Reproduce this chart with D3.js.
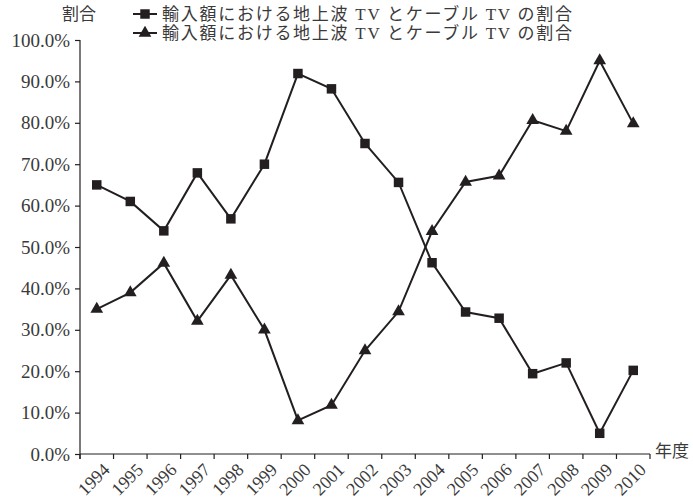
<!DOCTYPE html>
<html>
<head>
<meta charset="utf-8">
<script src="https://cdn.jsdelivr.net/npm/d3@7/dist/d3.min.js"></script>
<style>
  html, body { margin: 0; padding: 0; background: #fff; }
  svg { display: block; }
</style>
</head>
<body>
<svg id="chart" width="693" height="498"></svg>
<script>
// Fiscal years on the horizontal axis
const years = ["1994","1995","1996","1997","1998","1999","2000","2001","2002",
               "2003","2004","2005","2006","2007","2008","2009","2010"];
// Share (%) — series drawn with square markers
const squareSeries = [65.0, 61.0, 53.9, 67.9, 56.8, 70.0, 91.9, 88.2, 75.0,
                      65.6, 46.2, 34.3, 32.8, 19.4, 22.0, 5.0, 20.2];
// Share (%) — series drawn with triangle markers
const triangleSeries = [35.0, 39.0, 46.1, 32.1, 43.2, 30.0, 8.1, 11.8, 25.0,
                        34.4, 53.8, 65.7, 67.2, 80.6, 78.0, 95.0, 79.8];
const yTicks = [0, 10, 20, 30, 40, 50, 60, 70, 80, 90, 100];
const legendLabels = ["輸入額における地上波 TV とケーブル TV の割合",
                      "輸入額における地上波 TV とケーブル TV の割合"];
const yTitle = "割合";
const xTitle = "年度";

const ink = "#231f20";
const textInk = "#3a3a3a";
const serif = "'Liberation Serif', 'Noto Sans CJK JP', serif";
const cjk = "'Liberation Serif', 'Noto Sans CJK JP', sans-serif";

const svg = d3.select("#chart");
const plotLeft = 80, plotRight = 650, plotTop = 40, plotBottom = 454;

const x = d3.scaleBand().domain(years).range([plotLeft, plotRight]).padding(0);
const y = d3.scaleLinear().domain([0, 100]).range([plotBottom, plotTop]);
const cx = d => x(d) + x.bandwidth() / 2;

// Y axis
const yAxis = svg.append("g")
  .attr("transform", `translate(${plotLeft},0)`)
  .call(d3.axisLeft(y).tickValues(yTicks).tickSize(5).tickPadding(6)
        .tickFormat(d => d3.format(".1f")(d) + "%"));
yAxis.select(".domain").attr("d", `M0,${plotTop}V${plotBottom + 5}`)
  .attr("stroke", ink).attr("stroke-width", 1.2);
yAxis.selectAll(".tick line").attr("stroke", ink).attr("stroke-width", 1.2);
yAxis.selectAll(".tick text")
  .attr("font-family", serif).attr("font-size", 19).attr("fill", textInk)
  .attr("x", -10);

// X axis: ticks on band boundaries, labels under band centres
const xg = svg.append("g").attr("transform", `translate(0,${plotBottom})`);
xg.append("line").attr("x1", plotLeft).attr("x2", plotRight).attr("y1", 0).attr("y2", 0)
  .attr("stroke", ink).attr("stroke-width", 1.2);
const bounds = years.map(d => x(d)).concat([plotRight]);
xg.selectAll("line.tk").data(bounds).enter().append("line").attr("class", "tk")
  .attr("x1", d => d).attr("x2", d => d).attr("y1", 0).attr("y2", 5)
  .attr("stroke", ink).attr("stroke-width", 1.2);
xg.selectAll("text.yr").data(years).enter().append("text").attr("class", "yr")
  .attr("transform", d => `translate(${cx(d) + 14},${17}) rotate(-45)`)
  .attr("text-anchor", "end")
  .attr("font-family", serif).attr("font-size", 18).attr("fill", textInk)
  .text(d => d);

svg.append("text").attr("x", 655).attr("y", 457).attr("fill", textInk)
  .attr("font-family", cjk).attr("font-size", 17).text(xTitle);
svg.append("text").attr("x", 62).attr("y", 20).attr("fill", textInk)
  .attr("font-family", cjk).attr("font-size", 17).text(yTitle);

// Lines
const line = d3.line().x((d, i) => cx(years[i])).y(d => y(d));
[squareSeries, triangleSeries].forEach(s => {
  svg.append("path").attr("d", line(s)).attr("fill", "none")
    .attr("stroke", ink).attr("stroke-width", 2).attr("stroke-linejoin", "miter");
});

// Markers
const sq = d3.symbol().type(d3.symbolSquare).size(90);
const tri = d3.symbol().type(d3.symbolTriangle).size(70);
svg.selectAll("path.sq").data(squareSeries).enter().append("path").attr("class", "sq")
  .attr("d", sq).attr("fill", ink)
  .attr("transform", (d, i) => `translate(${cx(years[i])},${y(d)})`);
svg.selectAll("path.tri").data(triangleSeries).enter().append("path").attr("class", "tri")
  .attr("d", tri).attr("fill", ink)
  .attr("transform", (d, i) => `translate(${cx(years[i])},${y(d)})`);

// Legend
const legend = svg.append("g");
const rows = [{sym: sq, y: 14}, {sym: tri, y: 33}];
rows.forEach((r, i) => {
  legend.append("line").attr("x1", 133).attr("x2", 157).attr("y1", r.y).attr("y2", r.y)
    .attr("stroke", ink).attr("stroke-width", 2);
  legend.append("path").attr("d", r.sym).attr("fill", ink)
    .attr("transform", `translate(145,${r.y})`);
  legend.append("text").attr("x", 162).attr("y", r.y + 6).attr("fill", textInk)
    .attr("font-family", cjk).attr("font-size", 17)
    .attr("textLength", 410).attr("lengthAdjust", "spacing")
    .text(legendLabels[i]);
});
</script>
</body>
</html>
